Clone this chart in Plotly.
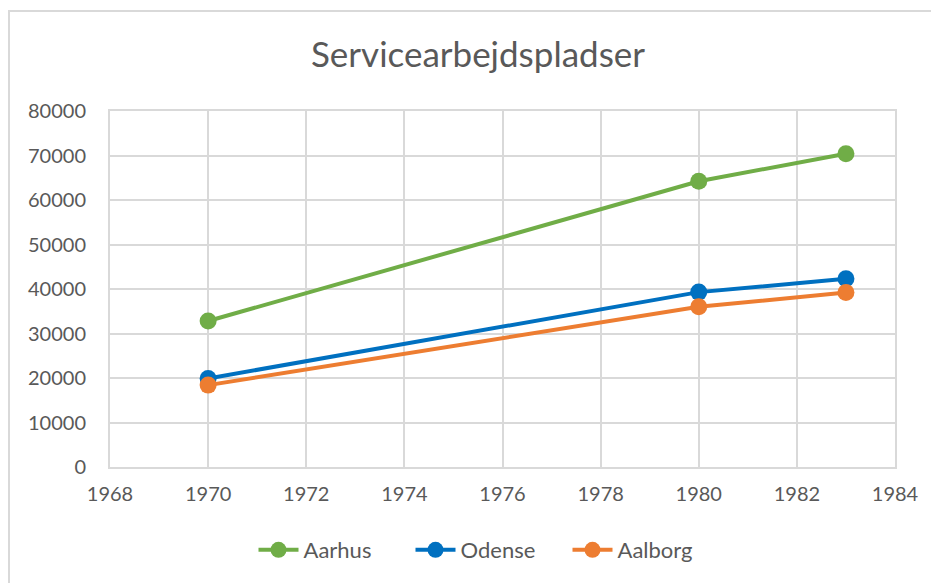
import plotly.graph_objects as go

years = [1970, 1980, 1983]
aarhus = [32800, 64200, 70400]
odense = [19900, 39300, 42300]
aalborg = [18400, 36000, 39200]

series = [
    ("Aarhus", aarhus, "#70AD47"),
    ("Odense", odense, "#0070C0"),
    ("Aalborg", aalborg, "#ED7D31"),
]

FONT = "Lato"
GRAY = "#595959"
GRID = "#D9D9D9"

W, H = 931, 575  # page body offsets the figure by 8px

fig = go.Figure()
for name, vals, col in series:
    fig.add_trace(go.Scatter(
        x=years, y=vals, name=name, mode="lines+markers",
        line=dict(color=col, width=4),
        marker=dict(color=col, size=17),
    ))

fig.update_layout(
    width=W, height=H,
    margin=dict(l=102, r=44, t=103, b=116),
    paper_bgcolor="white", plot_bgcolor="white",
    font=dict(family=FONT, color=GRAY, size=20),
    title=dict(text="Servicearbejdspladser", xref="container", x=(478 - 8) / W,
               xanchor="center", y=1 - 47 / H, yanchor="middle",
               font=dict(family=FONT, size=35, color=GRAY)),
    showlegend=True,
    legend=dict(orientation="h", x=(489 - 110) / 785, xanchor="center",
                y=-(550 - 467) / 356, yanchor="middle",
                font=dict(family=FONT, size=22, color=GRAY), itemwidth=40,
                entrywidth=102, traceorder="normal"),
    xaxis=dict(range=[1968, 1984], dtick=2, tick0=1968, showgrid=True, gridcolor=GRID,
               gridwidth=2, showline=True, linecolor=GRID, linewidth=2, mirror=True,
               zeroline=False, ticks="", ticklabelstandoff=8, tickformat="d",
               tickfont=dict(family=FONT, size=20, color=GRAY)),
    yaxis=dict(range=[0, 80000], dtick=10000, showgrid=True, gridcolor=GRID,
               gridwidth=2, showline=True, linecolor=GRID, linewidth=2, mirror=True,
               zeroline=False, ticks="", ticklabelstandoff=18, tickformat="d",
               tickfont=dict(family=FONT, size=20, color=GRAY)),
    shapes=[dict(type="rect", xref="paper", yref="paper",
                 x0=(9 - 110) / 785, x1=1.3, y0=-0.6, y1=(467 - 11) / 356,
                 line=dict(color=GRID, width=2), layer="below")],
)

fig.write_html("out.html")
